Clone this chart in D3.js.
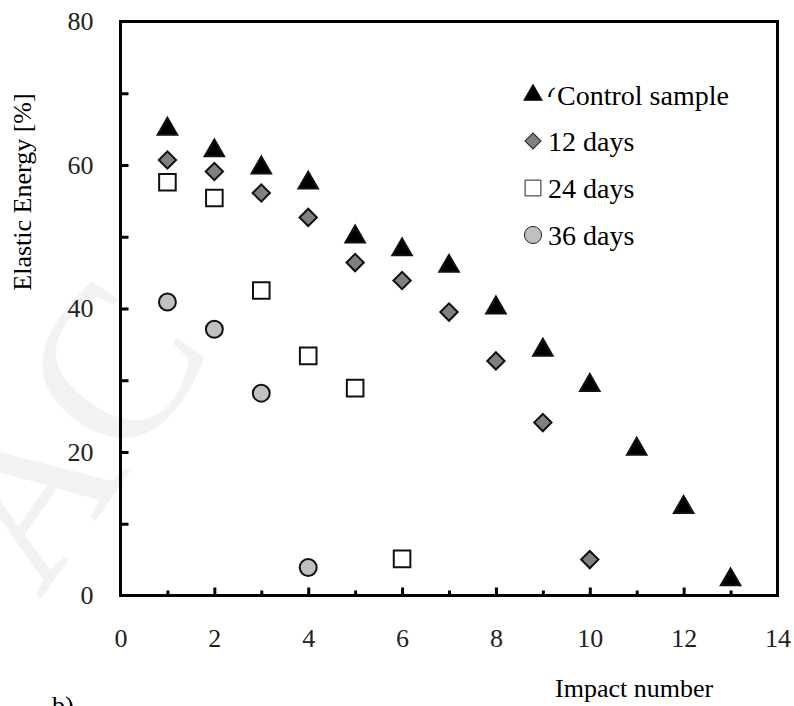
<!DOCTYPE html>
<html>
<head>
<meta charset="utf-8">
<script src="https://cdn.jsdelivr.net/npm/d3@7"></script>
<style>
  body { margin: 0; background: #fff; }
  svg { display: block; }
</style>
</head>
<body>
<svg width="794" height="706"></svg>
<script>
// values (impact number 1..n)
const control = [65.0, 62.0, 59.6, 57.5, 50.0, 48.2, 45.9, 40.1, 34.2, 29.3, 20.4, 12.3, 2.2];
const days12 = [60.7, 59.1, 56.1, 52.7, 46.4, 43.9, 39.5, 32.7, 24.1, 5.0];
const days24 = [57.6, 55.4, 42.5, 33.4, 28.9, 5.1];
const days36 = [40.9, 37.1, 28.2, 3.9];
const seriesNames = ['Control sample', '12 days', '24 days', '36 days'];
const xTickLabels = [0, 2, 4, 6, 8, 10, 12, 14];
const yTickLabels = [0, 20, 40, 60, 80];

const serif = "'Liberation Serif', 'Times New Roman', serif";
const svg = d3.select('svg');
const plotLeft = 120.5, plotRight = 777.5, plotTop = 21.5, plotBottom = 595.5;

const xScale = d3.scaleLinear().domain([0, 14]).range([plotLeft, plotRight]);
const yScale = d3.scaleLinear().domain([0, 80]).range([plotBottom, plotTop]);

// faint watermark in the background
svg.append('text')
    .attr('transform', 'translate(40, 600) rotate(-55)')
    .style('font-family', serif)
    .style('font-size', '220px')
    .attr('fill', '#f2f2f2')
    .text('AC');

// tick marks point inward
function tickAxis(axis, transform) {
  const g = svg.append('g').attr('transform', transform).call(axis);
  g.select('.domain').remove();
  g.selectAll('line').attr('stroke', '#000').attr('stroke-width', 3);
  g.selectAll('text').remove();
  return g;
}
tickAxis(d3.axisBottom(xScale).tickValues(d3.range(1, 14, 2)).tickSize(-5), `translate(0, ${plotBottom})`);
tickAxis(d3.axisBottom(xScale).tickValues(d3.range(2, 14, 2)).tickSize(-8), `translate(0, ${plotBottom})`);
tickAxis(d3.axisLeft(yScale).tickValues(d3.range(10, 80, 10)).tickSize(-8), `translate(${plotLeft}, 0)`);

// tick labels
const xLab = svg.append('g')
    .attr('transform', `translate(0, ${plotBottom})`)
    .call(d3.axisBottom(xScale).tickValues(xTickLabels).tickSize(0).tickPadding(33));
xLab.select('.domain').remove();
xLab.selectAll('text')
    .style('font-family', serif)
    .style('font-size', '26px')
    .attr('fill', '#222');

const yLab = svg.append('g')
    .attr('transform', `translate(${plotLeft}, 0)`)
    .call(d3.axisLeft(yScale).tickValues(yTickLabels).tickSize(0).tickPadding(27));
yLab.select('.domain').remove();
yLab.selectAll('text')
    .style('font-family', serif)
    .style('font-size', '26px')
    .attr('fill', '#222');

// frame
svg.append('rect')
    .attr('x', plotLeft).attr('y', plotTop)
    .attr('width', plotRight - plotLeft).attr('height', plotBottom - plotTop)
    .attr('fill', 'none')
    .attr('stroke', '#000')
    .attr('stroke-width', 3);

// series styles
const styles = [
  { data: control, type: d3.symbolTriangle, size: 165, fill: '#000', rot: 0 },
  { data: days12, type: d3.symbolSquare, size: 150, fill: '#808080', rot: 45 },
  { data: days24, type: d3.symbolSquare, size: 275, fill: '#fff', rot: 0 },
  { data: days36, type: d3.symbolCircle, size: 225, fill: '#c0c0c0', rot: 0 }
];

styles.forEach(s => {
  svg.append('g')
    .selectAll('path')
    .data(s.data)
    .join('path')
      .attr('d', d3.symbol().type(s.type).size(s.size))
      .attr('transform', (d, i) => `translate(${xScale(i + 1)}, ${yScale(d)}) rotate(${s.rot})`)
      .attr('fill', s.fill)
      .attr('stroke', '#111')
      .attr('stroke-width', 2);
});

// legend
const legendX = 533;
const legendMarkY = [95, 141, 188, 235];
const legendTextY = [105, 151, 198, 245];
const legendTextX = [557, 548, 548, 548];
const legendSizes = [150, 130, 250, 230];
styles.forEach((s, i) => {
  svg.append('path')
      .attr('d', d3.symbol().type(s.type).size(legendSizes[i]))
      .attr('transform', `translate(${legendX}, ${legendMarkY[i]}) rotate(${s.rot})`)
      .attr('fill', s.fill)
      .attr('stroke', '#222')
      .attr('stroke-width', 1);
  svg.append('text')
      .attr('x', legendTextX[i])
      .attr('y', legendTextY[i])
      .style('font-family', serif)
      .style('font-size', '28px')
      .attr('fill', '#000')
      .text(seriesNames[i]);
});
// clipped bracket fragment next to the first legend marker
svg.append('clipPath').attr('id', 'frag')
  .append('rect').attr('x', 546).attr('y', 80).attr('width', 10).attr('height', 17);
svg.append('text')
    .attr('x', 547).attr('y', 105)
    .style('font-family', serif)
    .style('font-size', '26px')
    .attr('clip-path', 'url(#frag)')
    .text('(');

// axis titles
svg.append('text')
    .attr('x', 555)
    .attr('y', 697)
    .style('font-family', serif)
    .style('font-size', '26px')
    .text('Impact number');

svg.append('text')
    .attr('transform', 'translate(31, 192) rotate(-90)')
    .attr('text-anchor', 'middle')
    .style('font-family', serif)
    .style('font-size', '26px')
    .text('Elastic Energy [%]');

svg.append('text')
    .attr('x', 52)
    .attr('y', 714)
    .style('font-family', serif)
    .style('font-size', '26px')
    .text('b)');
</script>
</body>
</html>
